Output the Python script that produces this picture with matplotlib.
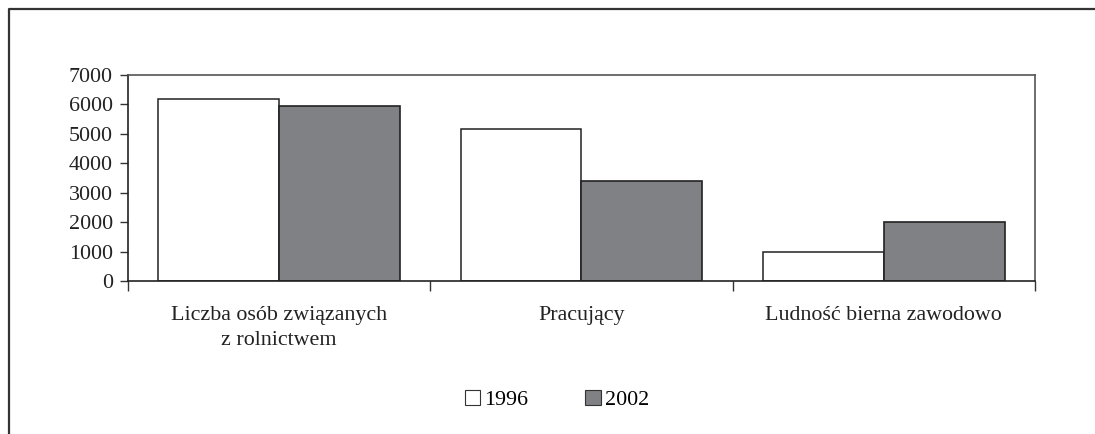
import matplotlib
matplotlib.use("Agg")
import matplotlib.pyplot as plt
from matplotlib.lines import Line2D
from matplotlib.patches import Patch
import numpy as np

categories = ["Liczba osób związanych\nz rolnictwem", "Pracujący", "Ludność bierna zawodowo"]
series_names = ["1996", "2002"]
values_1996 = [6200, 5180, 970]
values_2002 = [5950, 3400, 2000]
y_ticks = [0, 1000, 2000, 3000, 4000, 5000, 6000, 7000]

plt.rcParams["font.family"] = ["Liberation Serif", "DejaVu Serif"]
plt.rcParams["font.size"] = 15.8

W, H = 1095, 434
fig = plt.figure(figsize=(W / 100, H / 100), dpi=100)
fig.patch.set_facecolor("white")

# outer frame (left and top edges)
fig.add_artist(Line2D([9 / W, 9 / W, 1.01], [-0.01, 1 - 8.5 / H, 1 - 8.5 / H],
                      transform=fig.transFigure, color="#333333", lw=1.6))

ax = fig.add_axes([128 / W, 1 - 281 / H, (1035 - 128) / W, (281 - 75) / H])

x = np.arange(len(categories))
w = 0.4
ax.bar(x - w / 2, values_1996, width=w, color="white", edgecolor="#222222", lw=1.1,
       label=series_names[0], zorder=2)
ax.bar(x + w / 2, values_2002, width=w, color="#808184", edgecolor="#222222", lw=1.2,
       label=series_names[1], zorder=2)

ax.set_xlim(-0.5, len(categories) - 0.5)
ax.set_ylim(0, 7000)
ax.set_yticks(y_ticks)
ax.set_yticklabels([str(v) for v in y_ticks])

ax.set_xticks(np.arange(len(categories) + 1) - 0.5)
ax.set_xticklabels([])
ax.set_xticks(x, minor=True)
ax.set_xticklabels(categories, minor=True)
ax.tick_params(axis="x", which="major", direction="out", length=7, width=1, color="#333333")
ax.tick_params(axis="x", which="minor", length=0, pad=18, labelcolor="#222222")
ax.tick_params(axis="y", direction="out", length=6, width=1, color="#333333",
               pad=5, labelcolor="#222222")

for lab in ax.get_xticklabels(minor=True):
    lab.set_multialignment("center")
    lab.set_linespacing(1.4)

for side in ["left", "bottom"]:
    ax.spines[side].set_color("#222222")
    ax.spines[side].set_linewidth(1.2)
for side in ["top", "right"]:
    ax.spines[side].set_color("#555555")
    ax.spines[side].set_linewidth(1.2)

handles = [Patch(facecolor="white", edgecolor="#333333", lw=0.8),
           Patch(facecolor="#808184", edgecolor="#333333", lw=0.8)]
fig.legend(handles, series_names, loc="center", bbox_to_anchor=(557 / W, 1 - 400 / H),
           ncol=2, frameon=False, handlelength=0.7, handleheight=0.7,
           handletextpad=0.2, columnspacing=2.6, fontsize=15.8)

fig.savefig("out.png", dpi=100, facecolor="white")
